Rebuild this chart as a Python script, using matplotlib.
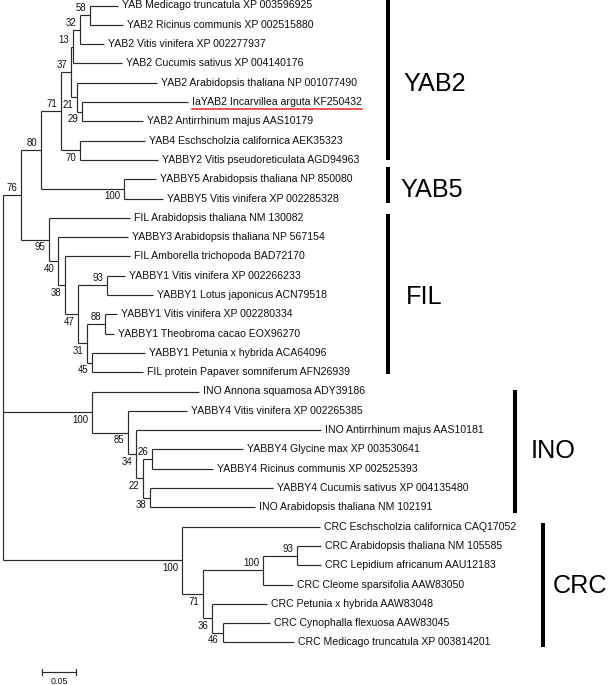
import matplotlib
matplotlib.use('Agg')
import matplotlib.pyplot as plt

# ---------------- data ----------------
leaf_labels = [
    "YAB Medicago truncatula XP 003596925",
    "YAB2 Ricinus communis XP 002515880",
    "YAB2 Vitis vinifera XP 002277937",
    "YAB2 Cucumis sativus XP 004140176",
    "YAB2 Arabidopsis thaliana NP 001077490",
    "IaYAB2 Incarvillea arguta KF250432",
    "YAB2 Antirrhinum majus AAS10179",
    "YAB4 Eschscholzia californica AEK35323",
    "YABBY2 Vitis pseudoreticulata AGD94963",
    "YABBY5 Arabidopsis thaliana NP 850080",
    "YABBY5 Vitis vinifera XP 002285328",
    "FIL Arabidopsis thaliana NM 130082",
    "YABBY3 Arabidopsis thaliana NP 567154",
    "FIL Amborella trichopoda BAD72170",
    "YABBY1 Vitis vinifera XP 002266233",
    "YABBY1 Lotus japonicus ACN79518",
    "YABBY1 Vitis vinifera XP 002280334",
    "YABBY1 Theobroma cacao EOX96270",
    "YABBY1 Petunia x hybrida ACA64096",
    "FIL protein Papaver somniferum AFN26939",
    "INO Annona squamosa ADY39186",
    "YABBY4 Vitis vinifera XP 002265385",
    "INO Antirrhinum majus AAS10181",
    "YABBY4 Glycine max XP 003530641",
    "YABBY4 Ricinus communis XP 002525393",
    "YABBY4 Cucumis sativus XP 004135480",
    "INO Arabidopsis thaliana NM 102191",
    "CRC Eschscholzia californica CAQ17052",
    "CRC Arabidopsis thaliana NM 105585",
    "CRC Lepidium africanum AAU12183",
    "CRC Cleome sparsifolia AAW83050",
    "CRC Petunia x hybrida AAW83048",
    "CRC Cynophalla flexuosa AAW83045",
    "CRC Medicago truncatula XP 003814201",
]
leaf_parent = ["M", "M", "N", "Q", "P", "S", "S", "T", "T", "U", "U",
               "D", "E", "F", "H", "H", "J", "J", "K", "K",
               "iM", "iN", "iO", "iQ", "iQ", "iR", "iR",
               "cS", "cW", "cW", "cU", "cV", "cX", "cX"]
leaf_length = [0.0412, 0.0485, 0.0353, 0.0721, 0.1176, 0.1559, 0.0897, 0.0956, 0.1147,
               0.0471, 0.0574,
               0.1191, 0.1029, 0.0956, 0.0265, 0.0676, 0.0176, 0.0132, 0.0779, 0.0750,
               0.1574, 0.0868, 0.2721, 0.1338, 0.0897, 0.1809, 0.1544,
               0.2029, 0.0353, 0.0353, 0.0441, 0.0809, 0.0691, 0.1044]

node_names = ["root", "C", "B", "A", "R", "Q", "N", "M", "P", "S", "T", "U",
              "D", "E", "F", "G", "H", "I", "J", "K",
              "iM", "iN", "iO", "iP", "iQ", "iR",
              "cS", "cT", "cU", "cW", "cV", "cX"]
node_parent = [None, "root", "C", "B", "A", "R", "Q", "N", "R", "P", "A", "B",
               "C", "D", "E", "F", "G", "G", "I", "I",
               "root", "iM", "iN", "iO", "iP", "iP",
               "root", "cS", "cT", "cU", "cT", "cV"]
node_length = [0.0, 0.0265, 0.0294, 0.0294, 0.0147, 0.0029, 0.0103, 0.0147, 0.0088, 0.0074,
               0.0279, 0.1221,
               0.0412, 0.0132, 0.0103, 0.0191, 0.0426, 0.0132, 0.0265, 0.0074,
               0.1309, 0.0529, 0.0118, 0.0103, 0.0132, 0.0103,
               0.2632, 0.0309, 0.0882, 0.0500, 0.0132, 0.0162]
node_support = [None, 76, 80, 71, 37, 13, 32, 58, 21, 29, 70, 100,
                95, 40, 38, 47, 93, 31, 88, 45,
                100, 85, 34, 22, 26, 38,
                100, 71, 100, 93, 36, 46]

highlight_leaf = "IaYAB2 Incarvillea arguta KF250432"

clade_names = ["YAB2", "YAB5", "FIL", "INO", "CRC"]
clade_first_leaf = [0, 9, 11, 20, 27]
clade_last_leaf = [8, 10, 19, 26, 33]

scale_length = 0.05
scale_label = "0.05"

# ---------------- layout ----------------
PX_X = 680.0   # pixels per substitution unit
PX_Y = 19.3    # pixels per leaf row
X0_PX, Y0_PX = 3.0, 5.5
W, H = 609, 685


def dx(px):
    return px / PX_X


def dy(px):
    return px / PX_Y


children = {n: [] for n in node_names}
length = {}
parent = {}
for n, p, l in zip(node_names, node_parent, node_length):
    length[n] = l
    parent[n] = p
    if p is not None:
        children[p].append(n)
leaf_ids = []
for i, (lab, p, l) in enumerate(zip(leaf_labels, leaf_parent, leaf_length)):
    lid = ("leaf", i)
    leaf_ids.append(lid)
    length[lid] = l
    parent[lid] = p
    children[p].append(lid)

ypos, xpos = {}, {}


def first_leaf(n):
    if isinstance(n, tuple):
        return n[1]
    return min(first_leaf(c) for c in children[n])


for n in node_names:
    children[n].sort(key=first_leaf)


def set_x(n, x):
    xpos[n] = x
    if not isinstance(n, tuple):
        for c in children[n]:
            set_x(c, x + length[c])


def set_y(n):
    if isinstance(n, tuple):
        ypos[n] = float(n[1])
        return ypos[n]
    ys = [set_y(c) for c in children[n]]
    ypos[n] = (ys[0] + ys[-1]) / 2
    return ypos[n]


set_x("root", 0.0)
set_y("root")

fig = plt.figure(figsize=(W / 100, H / 100), dpi=100)
ax = fig.add_axes([0, 0, 1, 1])
ax.set_xlim(-X0_PX / PX_X, (W - X0_PX) / PX_X)
ax.set_ylim((H - Y0_PX) / PX_Y, -Y0_PX / PX_Y)
ax.axis('off')

LC = '#2a2a2a'
LW = 0.85
FONT = ['Liberation Sans', 'Arial', 'DejaVu Sans']
NFONT = ['Liberation Sans Narrow', 'Liberation Sans', 'DejaVu Sans']

# branches
for n in list(node_names) + leaf_ids:
    p = parent[n]
    if p is None:
        continue
    ax.plot([xpos[p], xpos[n]], [ypos[n], ypos[n]], color=LC, lw=LW,
            solid_capstyle='butt')
for n in node_names:
    ch = children[n]
    ax.plot([xpos[n], xpos[n]], [ypos[ch[0]], ypos[ch[-1]]], color=LC, lw=LW,
            solid_capstyle='butt')

# bootstrap values
for n, s in zip(node_names, node_support):
    if s is None:
        continue
    p = parent[n]
    is_first = children[p][0] == n
    yy = ypos[n] - dy(7) if is_first else ypos[n] + dy(7.5)
    ax.text(xpos[n] - dx(4), yy, str(s), ha='right', va='center',
            fontsize=6.9, family=NFONT, color='#111111')

# leaf labels
texts = {}
for lid, lab in zip(leaf_ids, leaf_labels):
    t = ax.text(xpos[lid] + dx(4), ypos[lid], lab, ha='left', va='center',
                fontsize=7.55, family=FONT, color='#111111')
    texts[lab] = t

# red underline under highlighted leaf
fig.canvas.draw()
r = fig.canvas.get_renderer()
bb = texts[highlight_leaf].get_window_extent(renderer=r)
inv = ax.transData.inverted()
(x1, _), (x2, _) = inv.transform([[bb.x0, bb.y0], [bb.x1, bb.y0]])
li = leaf_labels.index(highlight_leaf)
ax.plot([x1, x2], [li + dy(6.5), li + dy(6.5)], color='#e8202a', lw=1.1)

# clade bars and names
bar_x_px = [388, 388, 388, 515, 543]
bar_top_pad = [6.0, 12.0, 3.5, 1.5, 3.5]
bar_bot_pad = [0.0, 4.5, 1.5, 5.5, 4.5]
lab_x_px = [403, 400, 406, 531, 553]
for name, a, b, bx, tp, bp, lx in zip(clade_names, clade_first_leaf, clade_last_leaf,
                                      bar_x_px, bar_top_pad, bar_bot_pad, lab_x_px):
    xb = (bx - X0_PX) / PX_X
    ax.plot([xb, xb], [a - dy(tp), b + dy(bp)], color='black', lw=2.9,
            solid_capstyle='butt')
    ax.text((lx - X0_PX) / PX_X, (a + b) / 2 + dy(1.5), name, ha='left', va='center',
            fontsize=18.2, family=FONT, color='black')

# scale bar
sb_x0 = dx(42 - X0_PX)
sb_y = dy(672 - Y0_PX)
ax.plot([sb_x0, sb_x0 + scale_length], [sb_y, sb_y], color=LC, lw=LW)
for xx in (sb_x0, sb_x0 + scale_length):
    ax.plot([xx, xx], [sb_y - dy(3), sb_y + dy(3)], color=LC, lw=LW)
ax.text(sb_x0 + scale_length / 2, sb_y + dy(5.5), scale_label, ha='center', va='top',
        fontsize=6.4, family=NFONT, color='#111111')

fig.savefig('out.png', dpi=100)
